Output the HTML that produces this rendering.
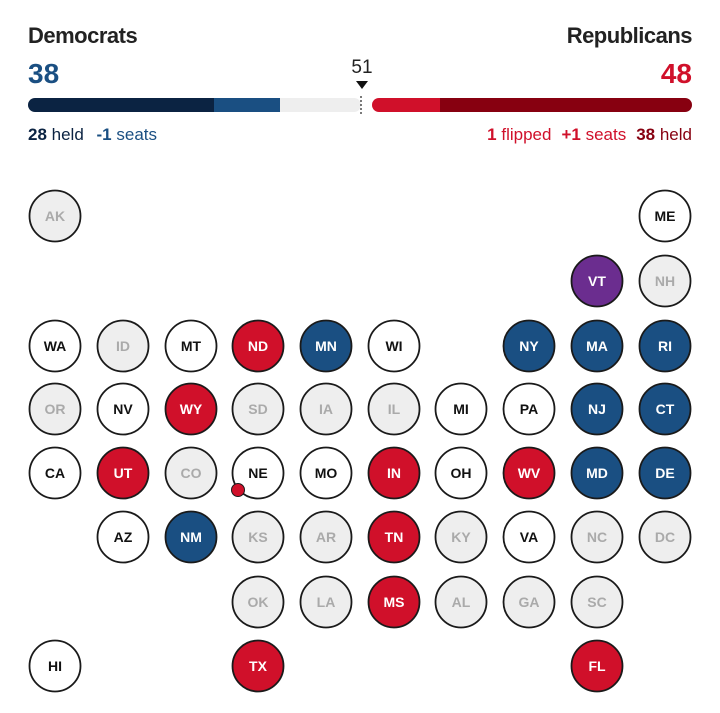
<!DOCTYPE html>
<html><head><style>
body{margin:0;background:#fff;width:720px;height:708px;overflow:hidden;font-family:"Liberation Sans",Arial,sans-serif;}
</style></head><body>
<svg width="720" height="708" viewBox="0 0 720 708" xmlns="http://www.w3.org/2000/svg" font-family="Liberation Sans, Arial, sans-serif">
<text x="28" y="43" font-size="22" font-weight="bold" fill="#222" letter-spacing="-0.5">Democrats</text>
<text x="692" y="43" font-size="22" font-weight="bold" fill="#222" text-anchor="end" letter-spacing="-0.5">Republicans</text>
<text x="28" y="83" font-size="28" font-weight="bold" fill="#1a4f82">38</text>
<text x="692" y="83" font-size="28" font-weight="bold" fill="#d0102a" text-anchor="end">48</text>
<text x="362" y="73" font-size="19" fill="#222" text-anchor="middle">51</text>
<polygon points="356,81 368,81 362,89" fill="#111"/>
<defs><clipPath id="bl"><rect x="28" y="98" width="333" height="14" rx="7"/></clipPath><clipPath id="br"><rect x="372" y="98" width="320" height="14" rx="7"/></clipPath></defs>
<g clip-path="url(#bl)"><rect x="28" y="98" width="186" height="14" fill="#0b2342"/><rect x="214" y="98" width="66" height="14" fill="#1a4f82"/><rect x="280" y="98" width="82" height="14" fill="#eeeeee"/></g>
<g clip-path="url(#br)"><rect x="372" y="98" width="68" height="14" fill="#d0102a"/><rect x="440" y="98" width="260" height="14" fill="#870010"/></g>
<line x1="361" y1="96" x2="361" y2="114" stroke="#222" stroke-width="1.2" stroke-dasharray="2,2"/>
<text x="28" y="140" font-size="17" fill="#0b2342"><tspan font-weight="bold">28</tspan> held <tspan dx="8" font-weight="bold" fill="#1a4f82">-1</tspan><tspan fill="#1a4f82"> seats</tspan></text>
<text x="692" y="140" font-size="17" text-anchor="end"><tspan font-weight="bold" fill="#d0102a">1</tspan><tspan fill="#d0102a"> flipped</tspan><tspan dx="10" font-weight="bold" fill="#d0102a">+1</tspan><tspan fill="#d0102a"> seats</tspan><tspan dx="10" font-weight="bold" fill="#870010">38</tspan><tspan fill="#870010"> held</tspan></text>
<g id="grid" font-size="14" font-weight="bold" text-anchor="middle"></g>
</svg>
<script>
var cx=[55,123,191,258,326,394,461,529,597,665],ry=[216,281,346,409,473,537,602,666];
var C={w:["#fff","#111"],g:["#eeeeee","#aaa"],r:["#d0102a","#fff"],b:["#1a4f82","#fff"],p:["#6b2d8f","#fff"]};
var S=[[0,0,"AK","g"],[0,9,"ME","w"],[1,8,"VT","p"],[1,9,"NH","g"],
[2,0,"WA","w"],[2,1,"ID","g"],[2,2,"MT","w"],[2,3,"ND","r"],[2,4,"MN","b"],[2,5,"WI","w"],[2,7,"NY","b"],[2,8,"MA","b"],[2,9,"RI","b"],
[3,0,"OR","g"],[3,1,"NV","w"],[3,2,"WY","r"],[3,3,"SD","g"],[3,4,"IA","g"],[3,5,"IL","g"],[3,6,"MI","w"],[3,7,"PA","w"],[3,8,"NJ","b"],[3,9,"CT","b"],
[4,0,"CA","w"],[4,1,"UT","r"],[4,2,"CO","g"],[4,3,"NE","w"],[4,4,"MO","w"],[4,5,"IN","r"],[4,6,"OH","w"],[4,7,"WV","r"],[4,8,"MD","b"],[4,9,"DE","b"],
[5,1,"AZ","w"],[5,2,"NM","b"],[5,3,"KS","g"],[5,4,"AR","g"],[5,5,"TN","r"],[5,6,"KY","g"],[5,7,"VA","w"],[5,8,"NC","g"],[5,9,"DC","g"],
[6,3,"OK","g"],[6,4,"LA","g"],[6,5,"MS","r"],[6,6,"AL","g"],[6,7,"GA","g"],[6,8,"SC","g"],
[7,0,"HI","w"],[7,3,"TX","r"],[7,8,"FL","r"]];
var h="";S.forEach(function(s){var x=cx[s[1]],y=ry[s[0]],c=C[s[3]];
h+='<circle cx="'+x+'" cy="'+y+'" r="25.5" fill="'+c[0]+'" stroke="#1a1a1a" stroke-width="1.8"/><text x="'+x+'" y="'+(y+5)+'" fill="'+c[1]+'">'+s[2]+'</text>';});
h+='<circle cx="238" cy="490" r="6.5" fill="#d0102a" stroke="#1a1a1a" stroke-width="1"/>';
document.getElementById("grid").innerHTML=h;
</script>
</body></html>
